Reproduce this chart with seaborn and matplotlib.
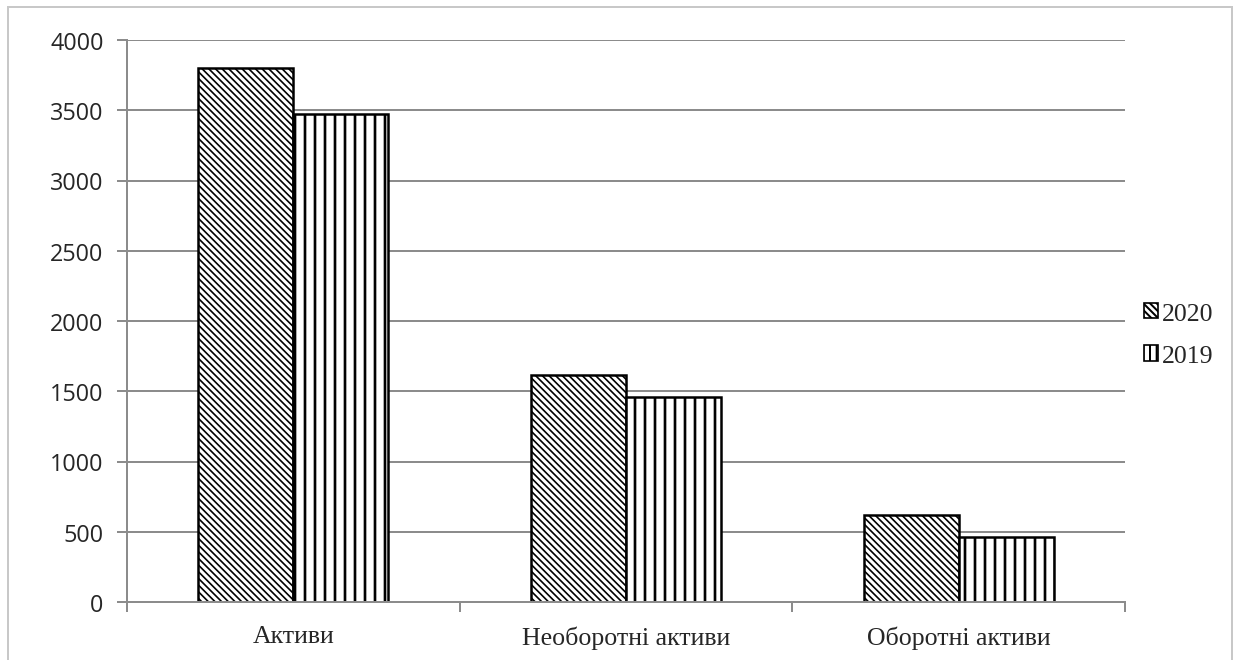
import matplotlib
matplotlib.use("Agg")
import matplotlib.pyplot as plt
from matplotlib.patches import Patch, Rectangle
import seaborn as sns
import pandas as pd

# Дані з діаграми
categories = ["Активи", "Необоротні активи", "Оборотні активи"]
years = ["2020", "2019"]
values_2020 = [3800, 1615, 618]
values_2019 = [3470, 1460, 460]
y_ticks = [0, 500, 1000, 1500, 2000, 2500, 3000, 3500, 4000]

df = pd.DataFrame({
    "Категорія": categories * 2,
    "Рік": ["2020"] * 3 + ["2019"] * 3,
    "Значення": values_2020 + values_2019,
})

sns.set_style("white")
plt.rcParams["hatch.linewidth"] = 1.2
grey = "#8c8c8c"

fig = plt.figure(figsize=(10.35, 5.508), dpi=120)
ax = fig.add_axes([127 / 1242, 1 - 603 / 661, (1125 - 127) / 1242, (603 - 41) / 661])

sns.barplot(data=df, x="Категорія", y="Значення", hue="Рік", hue_order=years,
            palette=["white", "white"], width=0.571, edgecolor="black",
            linewidth=1.5, saturation=1, legend=False, ax=ax)

hatches = ["\\\\\\\\\\\\", "||"]
hatch_lw = [1.0, 1.6]
for cont, h, hlw in zip(ax.containers, hatches, hatch_lw):
    for bar in cont:
        bar.set_hatch(h)
        if hasattr(bar, "set_hatch_linewidth"):
            bar.set_hatch_linewidth(hlw)

ax.set_ylim(0, 4000)
ax.set_yticks(y_ticks)
ax.set_xlim(-0.5, 2.5)
ax.yaxis.grid(True, color=grey, linewidth=1.2)
ax.set_axisbelow(True)
ax.set_xlabel("")
ax.set_ylabel("")
for s in ["top", "right"]:
    ax.spines[s].set_visible(False)
for s in ["left", "bottom"]:
    ax.spines[s].set_color(grey)
    ax.spines[s].set_linewidth(1.2)

ax.tick_params(axis="y", which="major", left=True, length=6, color=grey, width=1.2,
               labelsize=14, pad=8)
for lbl in ax.get_yticklabels():
    lbl.set_family(["Open Sans", "DejaVu Sans"])
ax.tick_params(axis="x", which="major", length=0, pad=14)
ax.set_xticks([-0.5, 0.5, 1.5, 2.5], minor=True)
ax.tick_params(axis="x", which="minor", bottom=True, length=6, color=grey, width=1.2)
for lbl in ax.get_xticklabels():
    lbl.set_family(["Liberation Serif", "DejaVu Serif"])
    lbl.set_fontsize(15.5)

handles = [Patch(facecolor="white", edgecolor="black", hatch=h, label=y)
           for h, y in zip(["\\\\\\\\\\\\", "|||"], years)]
fig.legend(handles=handles, loc="center left", bbox_to_anchor=(1121 / 1242, 1 - 336 / 661),
           frameon=False, prop={"family": "Liberation Serif", "size": 15.5},
           handlelength=0.55, handleheight=0.55, handletextpad=0.15, labelspacing=0.8)

# рамка навколо діаграми
fig.patches.append(Rectangle((8 / 1242, -0.05), (1232 - 8) / 1242, 1.05 - 8 / 661,
                             transform=fig.transFigure, fill=False,
                             edgecolor="#c8c8c8", linewidth=1.2))

fig.savefig("out.png", dpi=120)
